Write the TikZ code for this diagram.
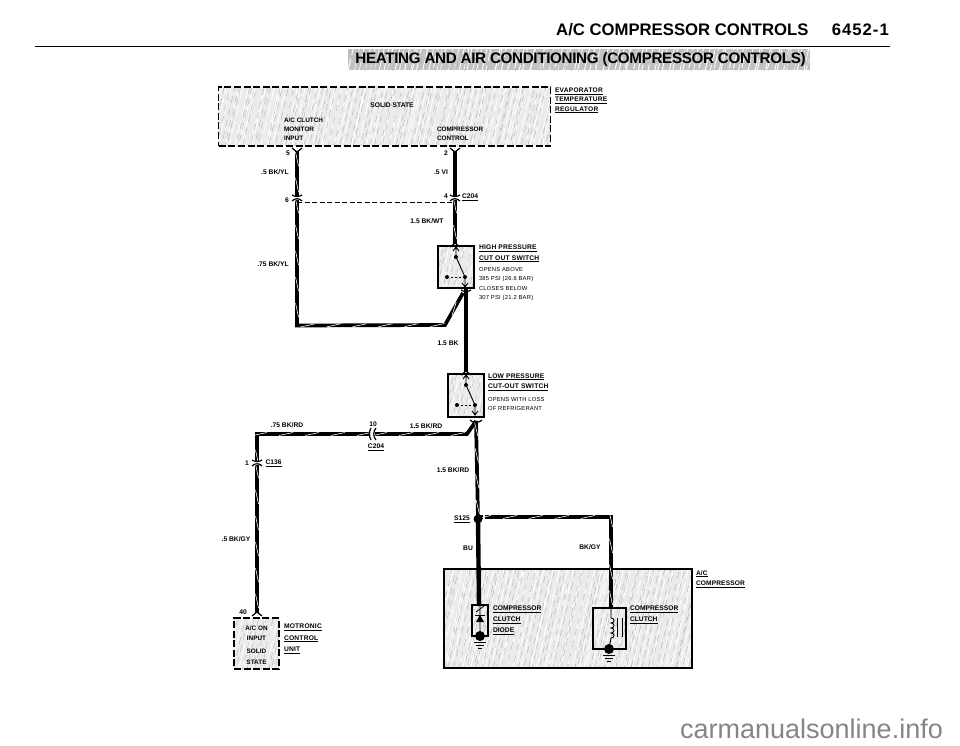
\documentclass[tikz,border=0pt]{standalone}
\usepackage{fontspec}
\usetikzlibrary{decorations.markings}
\setmainfont{Liberation Sans}
\begin{document}
\begin{tikzpicture}[x=1pt,y=-1pt,
  streaked/.style={fill=black!8,path picture={
    \pgfmathsetseed{#1}
    \foreach \i in {-270,-265,...,250}{
      \pgfmathsetmacro\ja{\i+5*rnd}\pgfmathsetmacro\jb{\i+5*rnd}\pgfmathsetmacro\ph{12*rnd}
      \draw[white,line width=.9pt,dash pattern=on 14pt off 4pt,dash phase=\ph pt] (\ja,60) -- ++(30,-130);
      \draw[black!28,line width=.5pt,dash pattern=on 7pt off 5pt,dash phase=\ph pt] (\jb,60) -- ++(30,-130);}
    }},
  streaked/.default=7,
  dashbox/.style={streaked,draw=black,line width=1.4pt,dash pattern=on 7pt off 2.6pt,inner sep=0pt},
  solidbox/.style={streaked,draw=black,line width=1.1pt,inner sep=0pt},
  innerbox/.style={draw=black,line width=1.2pt,inner sep=0pt},
  wire/.style={black,line width=3.7pt,line join=miter,postaction={decorate,
     decoration={markings,mark=between positions 8pt and -4pt step 26pt with {\draw[white,line width=.6pt] (-7pt,-1.5pt) -- (7pt,1.5pt);}}}},
  solidwire/.style={black,line width=#1},
  solidwire/.default=4.4pt,
  lab/.style={inner sep=0pt,outer sep=0pt,font=\fontsize{6.7}{9.4}\selectfont\bfseries,align=left},
  labc/.style={inner sep=0pt,outer sep=0pt,font=\fontsize{6.7}{9.4}\selectfont\bfseries,align=center},
  sw/.style={inner sep=0pt,outer sep=0pt,font=\fontsize{5.8}{9.5}\selectfont\addfontfeature{LetterSpace=4},align=left},
  swt/.style={inner sep=0pt,outer sep=0pt,font=\fontsize{6.7}{10.6}\selectfont\bfseries\addfontfeature{LetterSpace=3},align=left},
  dot/.style={circle,fill=black,inner sep=0pt,minimum size=#1},
  tip/.style={line width=.9pt,black}]
\useasboundingbox (0,0) rectangle (960,746);
\newcommand\UL[1]{\underline{#1}}
% connector: fork above, dome below
\newcommand\ConnV[2]{\fill[white] (#1-6,#2-2) rectangle (#1+6,#2+2);
  \draw[line width=1.2pt] (#1-5,#2-3) .. controls (#1-2,#2-1) and (#1+2,#2-1) .. (#1+5,#2-3);
  \draw[line width=1.2pt] (#1-5,#2+3) .. controls (#1-2,#2) and (#1+2,#2) .. (#1+5,#2+3);}
\newcommand\ForkDown[2]{\draw[line width=1.2pt] (#1-5,#2-3) -- (#1,#2+1) -- (#1+5,#2-3);}
\newcommand\ForkUp[2]{\draw[line width=1.2pt] (#1-5,#2+3) -- (#1,#2-1) -- (#1+5,#2+3);}
\newcommand\Switch[2]{%
  \draw[tip] (#1+18,#2+10) -- (#1+18,#2+1) (#1+15,#2+5) -- (#1+18,#2+1) -- (#1+21,#2+5);
  \draw[tip] (#1+18,#2+11) -- (#1+27,#2+31);
  \draw[tip,dashed,dash pattern=on 2pt off 2pt] (#1+9,#2+31) -- (#1+27,#2+31);
  \draw[tip] (#1+27,#2+31) -- (#1+27,#2+41) (#1+24,#2+37) -- (#1+27,#2+41) -- (#1+30,#2+37);
  \fill (#1+18,#2+11) circle (2pt) (#1+27,#2+31) circle (2pt) (#1+9,#2+31) circle (2pt);}
\newcommand\Ground[2]{\fill (#1,#2) circle (5pt);
  \draw[line width=.8pt] (#1-6,#2+6) -- (#1+6,#2+6) (#1-4,#2+9) -- (#1+4,#2+9) (#1-2,#2+12) -- (#1+2,#2+12);}

% header
\node (title) at (556,29.5) [anchor=west,inner sep=0pt,font=\fontsize{16.7}{18}\selectfont\bfseries] {A/C COMPRESSOR CONTROLS};
\node (pageno) at (889,29.5) [anchor=east,inner sep=0pt,font=\fontsize{16.7}{18}\selectfont\bfseries\addfontfeature{LetterSpace=6}] {6452-1};
\coordinate (ruleL) at (35,46.5); \coordinate (ruleR) at (890,46.5);
\draw[line width=1.9pt] (ruleL) -- (ruleR);
\node (banner) at (579,60) [streaked=3,fill=black!24,minimum width=462pt,minimum height=21pt,inner sep=0pt] {};
\node (bannert) at (580.5,60) [inner sep=0pt,font=\fontsize{15.2}{17}\selectfont\bfseries\addfontfeature{LetterSpace=-2.2}] {HEATING AND AIR CONDITIONING (COMPRESSOR CONTROLS)};

% boxes
\node (evap) at (384.7,116.5) [dashbox,minimum width=332pt,minimum height=59pt] {};
\node (hps) at (456,267) [solidbox,minimum width=36pt,minimum height=42pt] {};
\node (lps) at (466,395.5) [solidbox,minimum width=36pt,minimum height=43pt] {};
\node (mot) at (256.5,643.5) [dashbox,minimum width=45pt,minimum height=51pt] {};
\node (comp) at (568,618.5) [solidbox,minimum width=248pt,minimum height=99pt] {};

% junctions
\coordinate (p5) at (297,151);
\coordinate (c6) at (297,198);
\coordinate (corner1) at (297,325.5);
\coordinate (bend1) at (445,325);
\coordinate (hpsB) at (466,289);
\coordinate (branch) at (463,293);
\coordinate (p2) at (455,151);
\coordinate (c4) at (455,198);
\coordinate (hpsT) at (455,244);
\coordinate (lpsT) at (466,372);
\coordinate (lpsB) at (476,421);
\coordinate (bend2) at (467,434);
\coordinate (c10) at (372,434);
\coordinate (corner2) at (257,434);
\coordinate (c1) at (257,463);
\coordinate (p40) at (257,613);
\coordinate (corner3) at (611,517);
\coordinate (clutchT) at (611,608);
\coordinate (diodeT) at (479,606);

% wires
\draw[wire] (p5) -- (c6);
\draw[wire] (c6) -- (corner1) -- (bend1) -- (branch);
\draw[solidwire=3.8pt] (p2) -- (c4);
\draw[wire] (c4) -- (hpsT);
\draw[solidwire] (hpsB) -- (lpsT);
\draw[wire] (c1) -- (p40);
\draw[wire] (c10) -- (bend2) -- (lpsB);
\draw[wire] (c10) -- (corner2) -- (c1);
\node (s125) at (478,519) [dot=8pt] {};
\draw[wire] (lpsB) -- (s125);
\draw[solidwire] (s125) -- (diodeT);
\draw[wire] (s125) -- (478,517) -- (corner3) -- (clutchT);
\node (s125c) at (478,519) [dot=9pt] {};
\fill[white] (483,513) rectangle (485,521);
\draw[line width=.6pt,dash pattern=on 5pt off 2.5pt] (c6 |- 0,202) -- (c4 |- 0,202);

% connectors and ends
\ForkDown{297}{151} \ForkDown{455}{151}
\ConnV{297}{198} \ConnV{455}{198}
\ForkUp{455}{244} \ForkUp{466}{372}
\ForkUp{257}{613}
\ConnV{257}{463}
\draw[line width=1.2pt] (470,420) .. controls (472,423) and (480,423) .. (482,420);
\draw[line width=1.2pt] (461,290) .. controls (464,292) and (468,292) .. (471,290);
\fill[white] (369,427) rectangle (375,441);
\draw[line width=1.2pt] (371,428) .. controls (369,431) and (369,437) .. (371,440);
\draw[line width=1.2pt] (376,428) .. controls (373,431) and (373,437) .. (376,440);

% switches
\Switch{438}{246}
\Switch{448}{374}

% diode
\node (diode) at (480,620.5) [innerbox,minimum width=16pt,minimum height=31pt] {};
\draw[line width=.8pt] (480,606) -- (480,636) (476,612) -- (484,606);
\fill (476,622) -- (484,622) -- (480,615) -- cycle;
\draw[line width=.9pt] (475,615) -- (485,615);
\Ground{480}{636}
% clutch
\node (clutch) at (609.5,628.5) [innerbox,minimum width=33pt,minimum height=41pt] {};
\draw[line width=.9pt] (611,608) -- (611,618)
  .. controls (615,618) and (615,623) .. (611,623)
  .. controls (615,623) and (615,628) .. (611,628)
  .. controls (615,628) and (615,633) .. (611,633)
  .. controls (615,633) and (615,638) .. (611,638) -- (609,649);
\draw[line width=.6pt] (617,618) -- (617,637) (622,618) -- (622,637);
\Ground{609}{649}

% text
\node (solid) at (392,105) [labc] {SOLID STATE};
\node (acc) at (284,129.5) [lab,anchor=west,font=\fontsize{6.4}{9.2}\selectfont\bfseries] {A/C CLUTCH\\MONITOR\\INPUT};
\node (cc) at (437,134) [lab,anchor=west,font=\fontsize{6.4}{9.2}\selectfont\bfseries] {COMPRESSOR\\CONTROL};
\node (evl) at (555,100.5) [lab,anchor=west,font=\fontsize{6.6}{9.4}\selectfont\bfseries\addfontfeature{LetterSpace=4}] {\UL{EVAPORATOR}\\\UL{TEMPERATURE}\\\UL{REGULATOR}};
\node (n5) at (288,153) [lab] {5};
\node (n2) at (446,153) [lab] {2};
\node (w1) at (275,172) [lab] {.5 BK/YL};
\node (w2) at (441,172) [lab] {.5 VI};
\node (n6) at (287,200) [lab] {6};
\node (n4) at (446,196) [lab] {4};
\node (c204a) at (462,197) [lab,anchor=west] {\UL{C204}};
\node (w3) at (427,221) [lab] {1.5 BK/WT};
\node (w4) at (273,264) [lab,anchor=center] {.75 BK/YL};
\node (hl) at (479,253.5) [swt,anchor=west] {\UL{HIGH PRESSURE}\\\UL{CUT OUT SWITCH}};
\node (ht) at (479,284) [sw,anchor=west] {OPENS ABOVE\\385 PSI (26.6 BAR)\\CLOSES BELOW\\307 PSI (21.2 BAR)};
\node (w5) at (448,343) [lab] {1.5 BK};
\node (ll) at (488,382) [swt,anchor=west] {\UL{LOW PRESSURE}\\\UL{CUT-OUT SWITCH}};
\node (lt) at (488,404) [sw,anchor=west] {OPENS WITH LOSS\\OF REFRIGERANT};
\node (w6) at (287,425) [lab] {.75 BK/RD};
\node (n10) at (373,424) [lab] {10};
\node (w7) at (426,426) [lab] {1.5 BK/RD};
\node (c204b) at (376,447) [lab] {\UL{C204}};
\node (n1) at (247,463) [lab] {1};
\node (c136) at (265.5,463) [lab,anchor=west] {\UL{C136}};
\node (w8) at (453,470) [lab] {1.5 BK/RD};
\node (s125l) at (462,519) [lab] {\UL{S125}};
\node (w9) at (236,539) [lab] {.5 BK/GY};
\node (w10) at (468,548) [lab] {BU};
\node (w11) at (590,547) [lab] {BK/GY};
\node (n40) at (243,612) [lab] {40};
\node (mt) at (256.5,645) [labc,font=\fontsize{6.4}{10.7}\selectfont\bfseries] {A/C ON\\INPUT\\[2pt]SOLID\\STATE};
\node (mu) at (284,632) [swt,anchor=north west,font=\fontsize{6.7}{11.4}\selectfont\bfseries\addfontfeature{LetterSpace=3},yshift=8pt] {\UL{MOTRONIC}\\\UL{CONTROL}\\\UL{UNIT}};
\node (ac) at (696,579) [lab,anchor=west,font=\fontsize{6.6}{10.6}\selectfont\bfseries\addfontfeature{LetterSpace=2}] {\UL{A/C}\\\UL{COMPRESSOR}};
\node (cd) at (493,620) [lab,anchor=west,font=\fontsize{6.7}{11}\selectfont\bfseries] {\UL{COMPRESSOR}\\\UL{CLUTCH}\\\UL{DIODE}};
\node (ccl) at (630,615) [lab,anchor=west,font=\fontsize{6.7}{11}\selectfont\bfseries] {\UL{COMPRESSOR}\\\UL{CLUTCH}};
\node (wm) at (811.5,729) [inner sep=0pt,text=black!48,font=\fontsize{27}{29}\selectfont] {carmanualsonline.info};
\end{tikzpicture}
\end{document}
